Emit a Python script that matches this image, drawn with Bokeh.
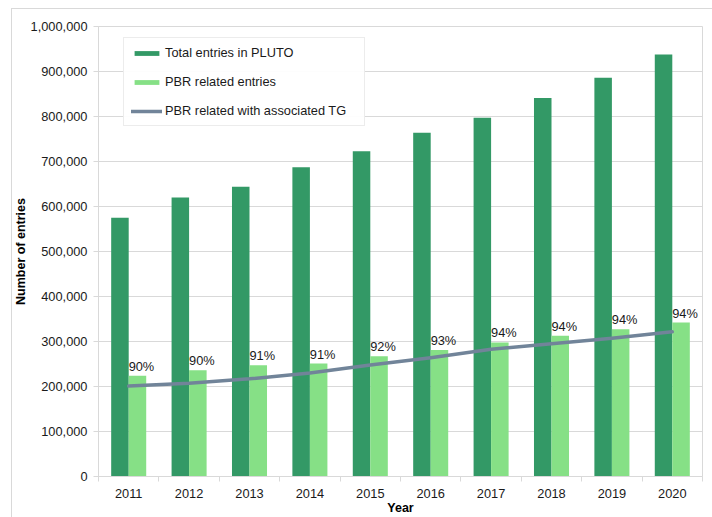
from bokeh.plotting import figure
from bokeh.models import (ColumnDataSource, FixedTicker, NumeralTickFormatter, Legend,
                          LegendItem, LabelSet, Range1d)
from bokeh.core.properties import value
from bokeh.transform import dodge
from bokeh.embed import file_html
from bokeh.resources import INLINE

years = [2011, 2012, 2013, 2014, 2015, 2016, 2017, 2018, 2019, 2020]
total_entries = [575000, 620000, 644000, 687000, 723000, 764000, 797000, 841000, 886000, 938000]
pbr_entries = [224000, 236000, 247000, 251000, 267000, 281000, 298000, 313000, 327000, 342000]
pbr_with_tg = [201000, 207000, 217000, 230000, 248000, 264000, 283000, 295000, 307000, 321500]
pct_labels = ["90%", "90%", "91%", "91%", "92%", "93%", "94%", "94%", "94%", "94%"]
y_ticks = [0, 100000, 200000, 300000, 400000, 500000, 600000, 700000, 800000, 900000, 1000000]

FONT = "Liberation Sans"
FS = "12.8px"
DARK = "#339966"
LIGHT = "#86E086"
LINE = "#718499"
GRID = "#D9D9D9"

src = ColumnDataSource(dict(year=years, total=total_entries, pbr=pbr_entries,
                            tg=pbr_with_tg, pct=pct_labels))

p = figure(width=712, height=517, output_backend="svg", toolbar_location=None,
           x_range=Range1d(2010.5, 2020.5), y_range=Range1d(0, 1000000),
           min_border_left=98, min_border_right=10, min_border_top=26, min_border_bottom=41)

p.border_fill_color = None
p.background_fill_color = "white"
p.outline_line_color = GRID
p.styles = {"box-shadow": "inset 11px 8px 0 0 white, inset 12px 9px 0 0 #D9D9D9"}

bw = 0.29
r_total = p.vbar(x=dodge("year", -bw / 2, range=p.x_range), top="total", width=bw,
                 source=src, fill_color=DARK, line_color=None)
r_pbr = p.vbar(x=dodge("year", bw / 2, range=p.x_range), top="pbr", width=bw,
               source=src, fill_color=LIGHT, line_color=None)
r_line = p.line(x="year", y="tg", source=src, line_color=LINE, line_width=3.5,
                line_join="round", line_cap="round")

labels = LabelSet(x=dodge("year", bw / 2, range=p.x_range), y="pbr", text="pct", source=src,
                  text_font=value(FONT), text_font_size=FS, text_color="#1a1a1a",
                  text_align="center", text_baseline="alphabetic", x_offset=4, y_offset=5)
p.add_layout(labels)

# axes
p.xaxis.ticker = FixedTicker(ticks=years, minor_ticks=[y + 0.5 for y in [2010] + years])
p.xaxis.major_tick_line_color = None
p.xaxis.major_tick_out = 5
p.xaxis.major_tick_in = 0
p.xaxis.minor_tick_line_color = GRID
p.xaxis.minor_tick_out = 5
p.xaxis.minor_tick_in = 0
p.xaxis.major_label_standoff = 7
p.xaxis.axis_line_color = GRID
p.xaxis.axis_label = "Year"

p.yaxis.ticker = FixedTicker(ticks=y_ticks)
p.yaxis.formatter = NumeralTickFormatter(format="0,0")
p.yaxis.major_tick_line_color = GRID
p.yaxis.major_tick_out = 5
p.yaxis.major_tick_in = 0
p.yaxis.minor_tick_line_color = None
p.yaxis.major_label_standoff = 6
p.yaxis.axis_line_color = GRID
p.yaxis.axis_label = "Number of entries"

for ax in (p.xaxis[0], p.yaxis[0]):
    ax.major_label_text_font = FONT
    ax.major_label_text_font_size = FS
    ax.major_label_text_color = "#1a1a1a"
    ax.axis_label_text_font = FONT
    ax.axis_label_text_font_size = "12.5px"
    ax.axis_label_text_font_style = "bold"
    ax.axis_label_text_color = "#000000"
p.xaxis.axis_label_standoff = 0
p.yaxis.axis_label_standoff = 0

p.xgrid.grid_line_color = None
p.ygrid.grid_line_color = GRID
p.ygrid.ticker = FixedTicker(ticks=y_ticks)

legend = Legend(items=[
    LegendItem(label="Total entries in PLUTO", renderers=[r_total]),
    LegendItem(label="PBR related entries", renderers=[r_pbr]),
    LegendItem(label="PBR related with associated TG", renderers=[r_line]),
], location=(25, 350))
legend.label_text_font = FONT
legend.label_text_font_size = FS
legend.label_text_color = "#1a1a1a"
legend.glyph_width = 31
legend.glyph_height = 6
legend.label_height = 14
legend.label_width = 192
legend.spacing = 14
legend.padding = 7
legend.label_standoff = 3
legend.border_line_color = GRID
legend.background_fill_color = "white"
legend.margin = 0
p.add_layout(legend, "center")

open("out.html", "w").write(file_html(p, INLINE))
